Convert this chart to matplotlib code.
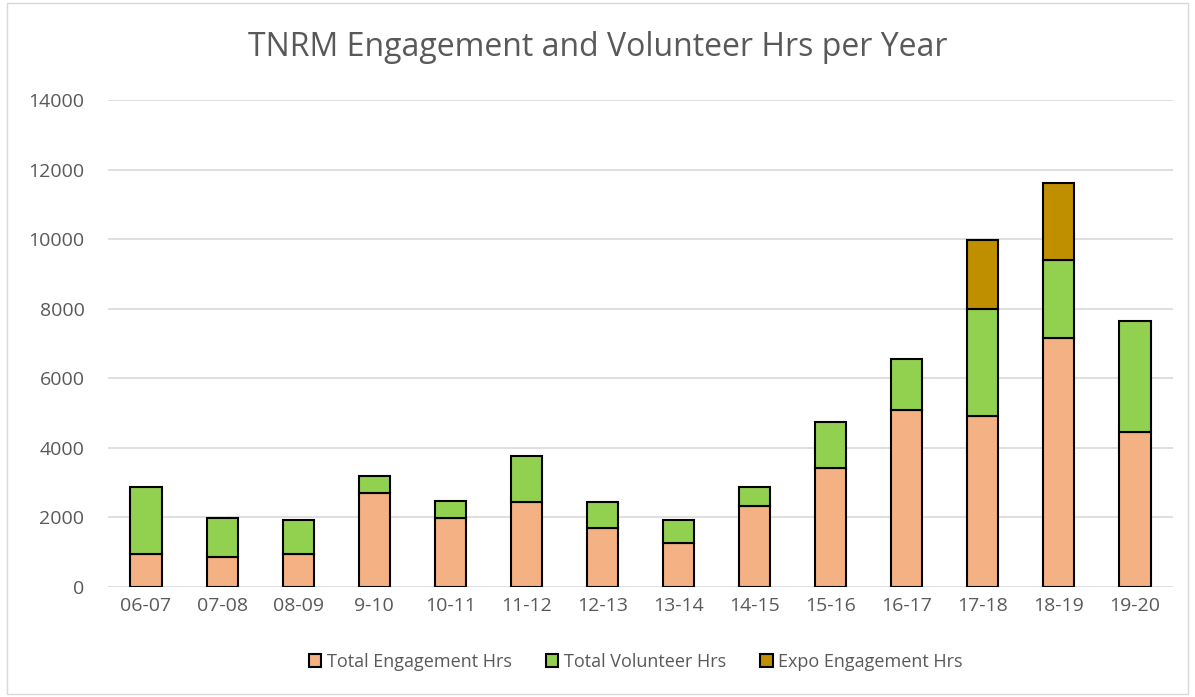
import numpy as np
import matplotlib.pyplot as plt
from matplotlib.patches import Rectangle

# data
years = ["06-07", "07-08", "08-09", "9-10", "10-11", "11-12", "12-13",
         "13-14", "14-15", "15-16", "16-17", "17-18", "18-19", "19-20"]
engagement = [945, 875, 945, 2705, 1975, 2430, 1700, 1265, 2315, 3420, 5075, 4910, 7165, 4470]
volunteer = [1925, 1100, 980, 485, 505, 1330, 730, 660, 555, 1315, 1480, 3080, 2245, 3190]
expo = [0, 0, 0, 0, 0, 0, 0, 0, 0, 0, 0, 1975, 2210, 0]

plt.rcParams['font.family'] = ['Open Sans', 'DejaVu Sans']

fig = plt.figure(figsize=(11.95, 6.97), dpi=100)
ax = fig.add_axes([108 / 1195, 1 - 587 / 697, (1173 - 108) / 1195, 487 / 697])

x = np.arange(len(years))
w = 0.41
eng = np.array(engagement)
vol = np.array(volunteer)
exp_ = np.array(expo)

ax.bar(x, eng, w, color="#F4B183", edgecolor="black", linewidth=1.5,
       label="Total Engagement Hrs", zorder=3)
ax.bar(x, vol, w, bottom=eng, color="#92D050", edgecolor="black", linewidth=1.5,
       label="Total Volunteer Hrs", zorder=3)
mask = exp_ > 0
ax.bar(x[mask], exp_[mask], w, bottom=(eng + vol)[mask], color="#BF8F00",
       edgecolor="black", linewidth=1.5, label="Expo Engagement Hrs", zorder=3)

ax.set_xlim(-0.5, len(years) - 0.5)
ax.set_ylim(0, 14000)
ax.set_yticks(range(0, 14001, 2000))
ax.set_xticks(x)
ax.set_xticklabels(years)
ax.tick_params(axis="both", length=0, labelsize=14, labelcolor="#595959")
ax.tick_params(axis="x", pad=7)
ax.tick_params(axis="y", pad=17)
ax.grid(axis="y", color="#D9D9D9", linewidth=1.2, zorder=0)
for s in ax.spines.values():
    s.set_visible(False)

fig.suptitle("TNRM Engagement and Volunteer Hrs per Year", x=0.5, y=1 - 47 / 697,
             va="center", fontsize=23, color="#595959")

handles, labels = ax.get_legend_handles_labels()
fig.legend(handles, labels, loc="center", bbox_to_anchor=(0.532, 1 - 662 / 697),
           ncol=3, frameon=False, fontsize=13, labelcolor="#595959",
           handlelength=0.7, handleheight=0.7, handletextpad=0.3, columnspacing=1.9)

# light border round the chart area
fig.patches.append(Rectangle((7 / 1195, 3 / 697), 1 - 14 / 1195, 1 - 6 / 697,
                             transform=fig.transFigure, fill=False,
                             edgecolor="#D9D9D9", linewidth=1))

fig.savefig("out.png", dpi=100)
